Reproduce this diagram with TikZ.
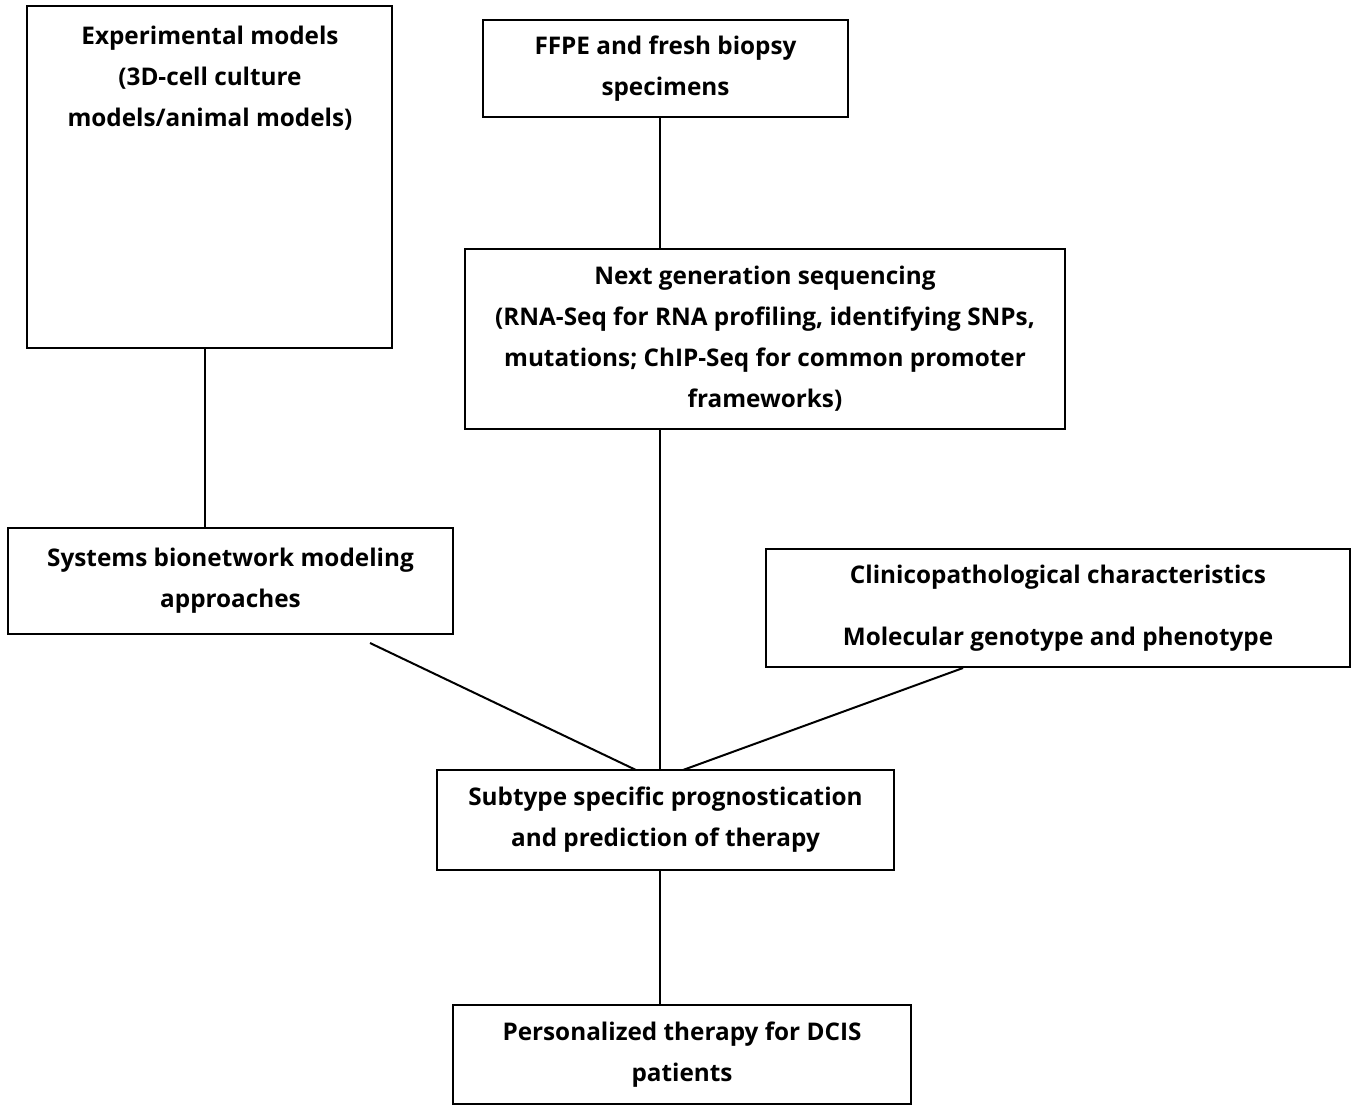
\documentclass[tikz,border=0pt]{standalone}
\usepackage{fontspec}
\setmainfont{Open Sans}
\usepackage{xcolor}

\begin{document}
\begin{tikzpicture}[x=1pt, y=-1pt]
  \tikzstyle{mytext}=[text=black, align=center,
    font=\fontsize{24.3}{41}\selectfont\bfseries];
  \tikzstyle{mybox}=[draw=black, line width=2pt, rectangle, inner sep=0pt];
  \tikzstyle{myline}=[line width=2pt, black];
  \useasboundingbox (0, 0) rectangle (1355, 1106);
  %
  % experimental models
  \node[mybox, minimum width=365pt, minimum height=342pt] (expmodels)
    at (209.5, 177) {};
  \node[mytext] (exptext) at (210, 78)
    { Experimental models\\ (3D-cell culture\\ models/animal models) };
  %
  % specimens and sequencing
  \node[mytext, mybox, minimum width=365pt, minimum height=97pt] (ffpe)
    at (665.5, 68.5) { FFPE and fresh biopsy\\ specimens };
  \node[mytext, mybox, minimum width=600pt, minimum height=180pt] (ngs)
    at (765, 339) { Next generation sequencing\\ (RNA-Seq for RNA profiling,
    identifying SNPs,\\ mutations; ChIP-Seq for common promoter\\ frameworks) };
  %
  % modeling and characteristics
  \node[mytext, mybox, minimum width=445pt, minimum height=106pt] (bionet)
    at (230.5, 581) { Systems bionetwork modeling\\ approaches };
  \node[mytext, mybox, minimum width=584pt, minimum height=118pt] (clinic)
    at (1058, 608) { Clinicopathological characteristics\\[21pt]
    Molecular genotype and phenotype };
  %
  % prognostication and therapy
  \node[mytext, mybox, minimum width=457pt, minimum height=100pt] (subtype)
    at (665.5, 820) { Subtype specific prognostication\\ and prediction of therapy };
  \node[mytext, mybox, minimum width=458pt, minimum height=99pt] (therapy)
    at (682, 1054.5) { Personalized therapy for DCIS\\ patients };
  %
  % connectors
  \coordinate (bionetend) at (370, 643);
  \coordinate (subleft) at (636, 770);
  \coordinate (subright) at (683, 770);
  \draw[myline] (expmodels.south -| 205, 0) -- (bionet.north -| 205, 0);
  \draw[myline] (ffpe.south -| 660, 0) -- (ngs.north -| 660, 0);
  \draw[myline] (ngs.south -| 660, 0) -- (subtype.north -| 660, 0);
  \draw[myline] (bionetend) -- (subleft);
  \draw[myline] (clinic.south -| 963, 0) -- (subright);
  \draw[myline] (subtype.south -| 660, 0) -- (therapy.north -| 660, 0);
\end{tikzpicture}
\end{document}
